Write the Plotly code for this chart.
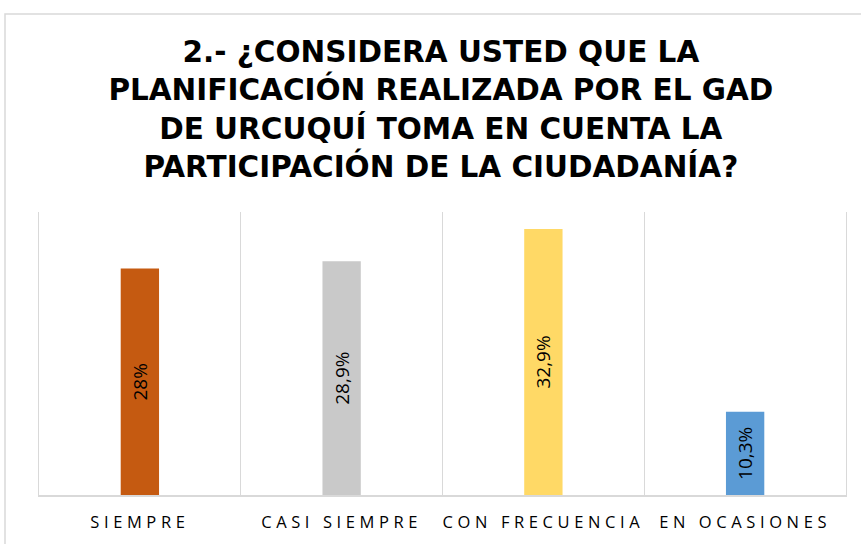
import plotly.graph_objects as go

# Survey answers and their shares (percent)
categories = ['SIEMPRE', 'CASI SIEMPRE', 'CON FRECUENCIA', 'EN OCASIONES']
values = [28.0, 28.9, 32.9, 10.3]
value_labels = ['28%', '28,9%', '32,9%', '10,3%']
bar_colors = ['#C55A11', '#C9C9C9', '#FFD966', '#5B9BD5']

title_text = ('2.- ¿CONSIDERA USTED QUE LA<br>PLANIFICACIÓN REALIZADA POR EL GAD<br>'
              'DE URCUQUÍ TOMA EN CUENTA LA<br>PARTICIPACIÓN DE LA CIUDADANÍA?')

grid_color = '#D9D9D9'

fig = go.Figure(go.Bar(
    x=categories,
    y=values,
    marker=dict(color=bar_colors, line=dict(width=0)),
    text=value_labels,
    textposition='inside',
    insidetextanchor='middle',
    textangle=-90,
    textfont=dict(family='Open Sans', size=19, color='#000000'),
    showlegend=False,
))

fig.update_layout(
    width=861,
    height=544,
    margin=dict(l=39, r=15, t=212, b=49),
    paper_bgcolor='white',
    plot_bgcolor='white',
    bargap=0.81,
    title=dict(
        text=title_text,
        x=0.512,
        xref='container',
        xanchor='center',
        y=1 - 62 / 544,
        yref='container',
        yanchor='top',
        font=dict(family='DejaVu Sans', size=29.5, color='#000000', weight='bold'),
    ),
)

# Vertical separators between categories, thick light base line
fig.update_xaxes(
    tickson='boundaries',
    showgrid=True,
    gridcolor=grid_color,
    gridwidth=1,
    showline=True,
    linecolor=grid_color,
    linewidth=2,
    ticks='',
    ticklabelstandoff=11,
    automargin=False,
    tickfont=dict(family='Open Sans', size=16.5, color='#000000'),
)
fig.update_yaxes(
    range=[0, 35],
    showgrid=False,
    showticklabels=False,
    zeroline=False,
    showline=True,
    mirror=True,
    linecolor=grid_color,
    linewidth=1,
    ticks='',
    automargin=False,
)

# Outer chart frame (runs off the right and bottom edges of the image)
fig.add_shape(
    type='rect',
    xref='paper', yref='paper',
    x0=(5 - 39) / 807, x1=1 + 40 / 807,
    y0=-80 / 283, y1=1 + (212 - 14) / 283,
    line=dict(color=grid_color, width=1.5),
    fillcolor='rgba(0,0,0,0)',
    layer='below',
)

# Drop the page margin and widen the letter spacing of the category labels
page_js = ("document.body.style.margin='0';"
           "document.querySelectorAll('.xtick text').forEach(function(t){"
           "t.style.letterSpacing='4.6px';});")

fig.write_html("out.html", post_script=page_js, config={'displayModeBar': False})
